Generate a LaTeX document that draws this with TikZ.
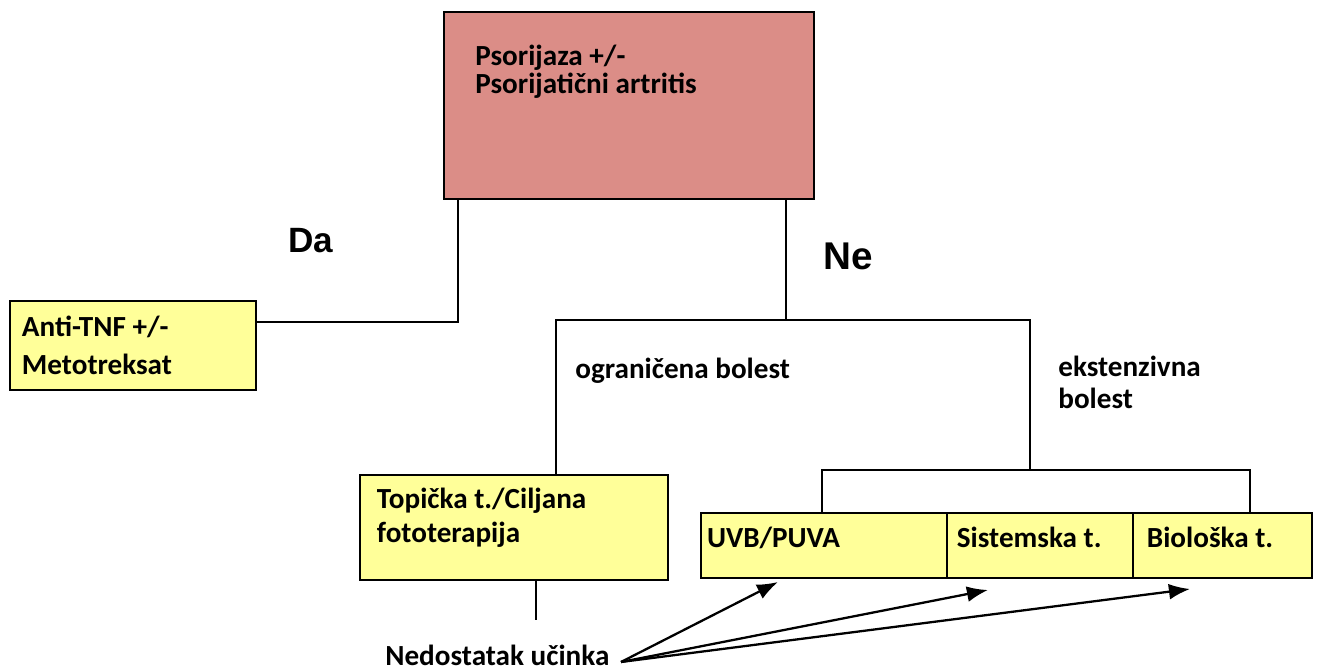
\documentclass[tikz,border=0pt]{standalone}
\usepackage{fontspec}
\setmainfont{Carlito}
\newfontfamily\naslovfont{Liberation Sans}
\usepackage{tikz}
\usetikzlibrary{arrows.meta}
\usetikzlibrary{positioning}
\definecolor{psorroza}{HTML}{DB8D87}
\definecolor{terapzuta}{HTML}{FFFF99}

\begin{document}
\begin{tikzpicture}[x=0.02cm, y=-0.02cm,
    veza/.style={line width=1.1pt},
    strelica/.style={line width=1.3pt, -{Latex[length=12pt, width=9pt]}},
    kutija/.style={draw, line width=0.9pt, outer sep=0pt},
    zutakutija/.style={kutija, fill=terapzuta},
    tekst/.style={font=\bfseries\fontsize{16.6}{20}\selectfont, align=flush left, inner sep=0pt},
    redak/.style={text height=0.4cm, text depth=0.3cm, minimum height=1.3cm},
    odluka/.style={font=\naslovfont\bfseries, inner sep=0pt}]
    \useasboundingbox (0, 0) rectangle (1320, 671);
    % glavna kutija
    \node[kutija, fill=psorroza, minimum width=7.4cm, minimum height=3.74cm, anchor=north west] (psor) at (444, 12) {};
    \node[tekst, font=\bfseries\fontsize{16.6}{15.5}\selectfont, anchor=north west, below right=0.66cm and 0.62cm of psor.north west] (psortekst) {Psorijaza +/-\\Psorijatični artritis};
    % terapije
    \node[zutakutija, tekst, inner xsep=0.24cm, font=\bfseries\fontsize{16.6}{21.5}\selectfont, text width=4.44cm, minimum height=1.78cm, anchor=north west] (anti) at (10, 301) {Anti-TNF +/-\\Metotreksat};
    \node[zutakutija, tekst, inner xsep=0.34cm, font=\bfseries\fontsize{16.6}{19.3}\selectfont, text width=5.48cm, minimum height=2.1cm, anchor=north west] (topicka) at (360, 475) {Topička t./Ciljana\\fototerapija\\[-5.7pt]\mbox{}};
    \node[zutakutija, tekst, redak, inner xsep=0.12cm, text width=4.68cm, anchor=north west] (uvb) at (701, 513) {UVB/PUVA};
    \node[zutakutija, tekst, redak, inner xsep=0.2cm, text width=3.32cm, right=0pt of uvb] (sist) {Sistemska t.};
    \node[zutakutija, tekst, redak, inner xsep=0.28cm, text width=3.02cm, right=0pt of sist] (bio) {Biološka t.};
    % natpisi
    \node[odluka, font=\naslovfont\bfseries\fontsize{20}{24}\selectfont, anchor=base] (da) at (311, 253) {Da};
    \node[odluka, font=\naslovfont\bfseries\fontsize{22}{26}\selectfont, anchor=base] (ne) at (848, 270) {Ne};
    \node[tekst, anchor=base west] (ogr) at (575, 379) {ograničena bolest};
    \node[tekst, anchor=north west, font=\bfseries\fontsize{16.6}{18}\selectfont] (eks) at (1058, 356) {ekstenzivna\\bolest};
    \node[tekst, anchor=base west] (nedost) at (385, 666) {Nedostatak učinka};
    % spojne tocke
    \coordinate (dasplit) at (458, 322);
    \coordinate (nesplit) at (786, 320);
    \coordinate (ogrkut) at (556, 320);
    \coordinate (ekskut) at (1030, 320);
    \coordinate (ekssplit) at (1030, 470);
    \coordinate (uvbspoj) at (822, 470);
    \coordinate (biospoj) at (1250, 470);
    \coordinate (topkraj) at (536, 620);
    \coordinate (nedoststart) at (621, 662);
    \coordinate (uvbstrel) at (778, 582);
    \coordinate (siststrel) at (988, 590);
    \coordinate (biostrel) at (1190, 589);
    % linije
    \draw[veza] (psor.south -| dasplit) -- (dasplit) -- (dasplit -| anti.east);
    \draw[veza] (psor.south -| nesplit) -- (nesplit);
    \draw[veza] (topicka.north -| ogrkut) -- (ogrkut) -- (ekskut) -- (ekssplit);
    \draw[veza] (uvb.north -| uvbspoj) -- (uvbspoj) -- (biospoj) -- (bio.north -| biospoj);
    \draw[veza] (topicka.south -| topkraj) -- (topkraj);
    \draw[strelica] (nedoststart) -- (uvbstrel);
    \draw[strelica] (nedoststart) -- (siststrel);
    \draw[strelica] (nedoststart) -- (biostrel);
  \end{tikzpicture}
\end{document}
